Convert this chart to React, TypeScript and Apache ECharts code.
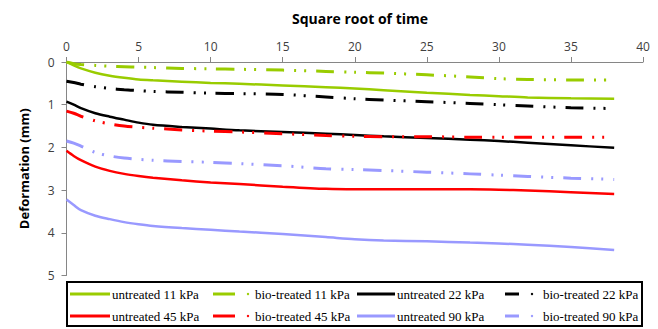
import React, { useEffect, useRef } from "react";
import * as echarts from "echarts";

const xValues = [0, 0.5, 1, 2, 3, 4, 5, 6, 8, 10, 12, 15, 18, 20, 22, 25, 28, 30, 32, 35, 38];
const untreated11 = [0, 0.08, 0.15, 0.25, 0.32, 0.37, 0.41, 0.43, 0.46, 0.49, 0.51, 0.55, 0.59, 0.62, 0.66, 0.72, 0.77, 0.8, 0.83, 0.85, 0.86];
const bio11 = [0, 0.04, 0.06, 0.08, 0.1, 0.11, 0.12, 0.13, 0.15, 0.16, 0.17, 0.19, 0.22, 0.24, 0.26, 0.3, 0.35, 0.39, 0.41, 0.42, 0.42];
const untreated22 = [0.93, 1.0, 1.08, 1.2, 1.28, 1.35, 1.42, 1.47, 1.52, 1.56, 1.6, 1.64, 1.68, 1.71, 1.74, 1.78, 1.82, 1.85, 1.89, 1.95, 2.01];
const bio22 = [0.45, 0.48, 0.52, 0.58, 0.62, 0.65, 0.67, 0.69, 0.71, 0.73, 0.74, 0.76, 0.82, 0.86, 0.89, 0.93, 0.97, 1.0, 1.03, 1.07, 1.09];
const untreated45 = [2.08, 2.2, 2.3, 2.45, 2.55, 2.62, 2.67, 2.71, 2.77, 2.82, 2.86, 2.92, 2.97, 2.98, 2.98, 2.98, 2.98, 2.99, 3.01, 3.05, 3.09];
const bio45 = [1.15, 1.2, 1.27, 1.38, 1.45, 1.5, 1.53, 1.55, 1.59, 1.62, 1.64, 1.68, 1.72, 1.74, 1.75, 1.75, 1.76, 1.76, 1.76, 1.76, 1.76];
const untreated90 = [3.22, 3.35, 3.47, 3.6, 3.68, 3.75, 3.8, 3.84, 3.89, 3.93, 3.97, 4.03, 4.1, 4.15, 4.18, 4.2, 4.23, 4.25, 4.28, 4.33, 4.4];
const bio90 = [1.85, 1.9, 1.97, 2.12, 2.2, 2.25, 2.28, 2.3, 2.33, 2.35, 2.38, 2.43, 2.5, 2.52, 2.54, 2.58, 2.62, 2.65, 2.68, 2.72, 2.75];

const GREEN = "#99CC00";
const BLACK = "#000000";
const RED = "#FF0000";
const BLUE = "#9999FF";
const DASH = [18, 10, 2, 8, 2, 10];

const seriesDefs = [
  { name: "untreated 11 kPa", data: untreated11, color: GREEN, dashed: false },
  { name: "bio-treated 11 kPa", data: bio11, color: GREEN, dashed: true },
  { name: "untreated 22 kPa", data: untreated22, color: BLACK, dashed: false },
  { name: "bio-treated 22 kPa", data: bio22, color: BLACK, dashed: true },
  { name: "untreated 45 kPa", data: untreated45, color: RED, dashed: false },
  { name: "bio-treated 45 kPa", data: bio45, color: RED, dashed: true },
  { name: "untreated 90 kPa", data: untreated90, color: BLUE, dashed: false },
  { name: "bio-treated 90 kPa", data: bio90, color: BLUE, dashed: true },
];

export default function App() {
  const ref = useRef<HTMLDivElement>(null);
  useEffect(() => {
    if (!ref.current) return;
    const chart = echarts.init(ref.current, undefined, { renderer: "svg" });

    const legendCols = [
      { lineX: 70, lineW: 40, textX: 112 },
      { lineX: 213, lineW: 22, textX: 255 },
      { lineX: 357, lineW: 38, textX: 397 },
      { lineX: 505, lineW: 14, textX: 543 },
    ];
    const rows = [294, 316];
    const legendEls: any[] = [
      {
        type: "rect",
        shape: { x: 67, y: 282, width: 575, height: 44 },
        style: { fill: "#fff", stroke: "#000", lineWidth: 2 },
        z: 10,
      },
    ];
    seriesDefs.forEach((s, i) => {
      const row = rows[Math.floor(i / 4)];
      const col = legendCols[i % 4];
      legendEls.push({
        type: "line",
        shape: { x1: col.lineX, y1: row, x2: col.lineX + col.lineW, y2: row },
        style: { stroke: s.color, lineWidth: 3 },
        z: 11,
      });
      if (s.dashed) {
        legendEls.push({
          type: "circle",
          shape: { cx: col.lineX + col.lineW + 13, cy: row, r: 1.2 },
          style: { fill: s.color },
          z: 11,
        });
      }
      legendEls.push({
        type: "text",
        x: col.textX,
        y: row,
        style: {
          text: s.name,
          fill: "#000",
          font: "13px 'Liberation Serif'",
          textVerticalAlign: "middle",
          verticalAlign: "middle",
        },
        z: 11,
      });
    });

    chart.setOption({
      animation: false,
      backgroundColor: "#fff",
      title: {
        text: "Square root of time",
        left: 355,
        top: 6,
        textAlign: "center",
        textStyle: { fontFamily: "Open Sans", fontSize: 14, fontWeight: "bold", color: "#000" },
      },
      grid: { left: 66.5, top: 62, right: 15, bottom: 53.5 },
      xAxis: {
        type: "value",
        position: "top",
        min: 0,
        max: 40,
        interval: 5,
        axisLine: { lineStyle: { color: "#868686", width: 1 } },
        axisTick: { show: true, length: 5, lineStyle: { color: "#868686" } },
        axisLabel: { margin: 10, color: "#404040", fontFamily: "Open Sans", fontSize: 12 },
        splitLine: { show: false },
      },
      yAxis: {
        type: "value",
        inverse: true,
        min: 0,
        max: 5,
        interval: 1,
        name: "Deformation (mm)",
        nameLocation: "middle",
        nameGap: 36,
        nameRotate: 90,
        nameTextStyle: { fontFamily: "Open Sans", fontSize: 13, fontWeight: "bold", color: "#000" },
        axisLine: { show: true, lineStyle: { color: "#868686", width: 1 } },
        axisTick: { show: true, length: 5, lineStyle: { color: "#868686" } },
        axisLabel: { margin: 12, color: "#404040", fontFamily: "Open Sans", fontSize: 12 },
        splitLine: { show: false },
      },
      series: seriesDefs.map((s) => ({
        name: s.name,
        type: "line",
        data: xValues.map((x, i) => [x, s.data[i]]),
        smooth: 0.3,
        showSymbol: false,
        lineStyle: { color: s.color, width: s.dashed ? 3 : 2.5, type: s.dashed ? DASH : "solid" },
        itemStyle: { color: s.color },
      })),
      graphic: legendEls,
    });
    return () => chart.dispose();
  }, []);
  return <div ref={ref} style={{ width: 658, height: 329, position: "absolute", left: 0, top: 0 }} />;
}
